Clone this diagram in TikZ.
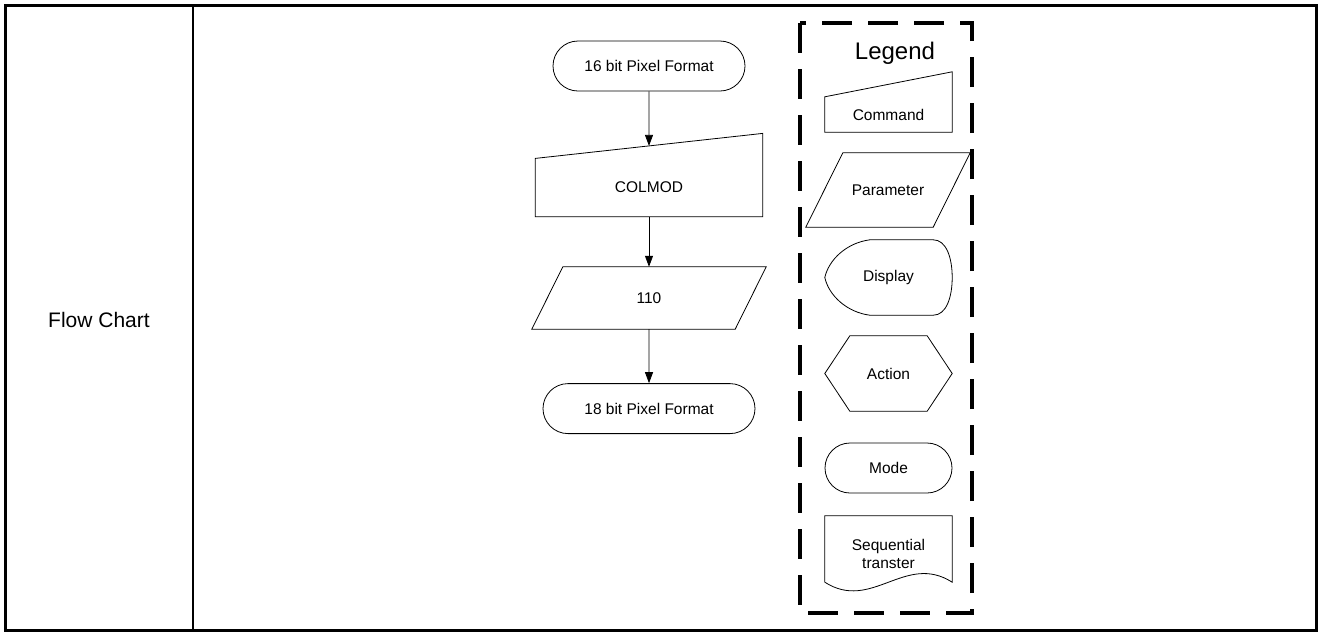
\documentclass[tikz,border=0pt]{standalone}
\usepackage{fontspec}
\setmainfont{Liberation Sans}
\usetikzlibrary{arrows.meta, positioning, shapes.misc, calc}
\tikzset{
  arrowK/.style={-{Triangle[length=11pt, width=8pt]}, black, line width=0.8pt},
  termbox/.style={rounded rectangle, draw, line width=0.8pt, minimum height=50pt,
                  inner sep=0pt, align=center},
  plainbox/.style={rectangle, inner sep=0pt, align=center},
  outline/.style={draw, line width=0.8pt},
  legdash/.style={line width=4pt, dash pattern=on 30pt off 16pt},
}
\begin{document}
\begin{tikzpicture}[x=1pt, y=-1pt, font=\fontsize{15.5}{18}\selectfont]
    \useasboundingbox (0,0) rectangle (1318,633);
    \draw[line width=3pt] (5,5) rectangle (1316,630);
    \draw[line width=2pt] (193,5) -- (193,630);
    \node[font=\fontsize{21}{24}\selectfont] (title) at (99,320) {Flow Chart};

    \node[termbox, minimum width=192pt] (fmt16) at (649,66) {16 bit Pixel Format};
    \node[plainbox, minimum width=227pt, minimum height=58pt, below=67pt of fmt16] (colmod) {COLMOD};
    \node[plainbox, minimum width=172pt, minimum height=62pt, below=50pt of colmod] (val) {110};
    \node[termbox, minimum width=212pt, below=54pt of val] (fmt18) {18 bit Pixel Format};
    \draw[outline] (colmod.south west) -- (colmod.north west) -- ([yshift=25pt]colmod.north east) -- (colmod.south east) -- cycle;
    \draw[outline] ([xshift=-31pt]val.south west) -- (val.north west) -- ([xshift=31pt]val.north east) -- (val.south east) -- cycle;
    \coordinate (colmodtop) at ([yshift=12.5pt]colmod.north);
    \draw[arrowK] (fmt16) -- (colmodtop); \draw[arrowK] (colmod) -- (val); \draw[arrowK] (val) -- (fmt18);

    \draw[legdash] (800,23) rectangle (972,613);
    \node[font=\fontsize{24}{28}\selectfont] (legtitle) at (895,53) {Legend};
    \node[plainbox, minimum width=127pt, minimum height=35pt] (legcmd) at (888.5,114.5) {Command};
    \node[plainbox, minimum width=90pt, minimum height=74pt] (legpar) at (888,190) {Parameter};
    \node[plainbox, minimum width=127pt, minimum height=75pt] (legdisp) at (888.5,277.5) {Display};
    \node[plainbox, minimum width=127pt, minimum height=75pt] (legact) at (888.5,373.5) {Action};
    \node[termbox, minimum width=127pt] (legmode) at (888.5,468) {Mode};
    \node[plainbox, minimum width=127pt, minimum height=76pt] (legseq) at (888.5,554) {Sequential\\transter};
    \draw[outline] (legcmd.south west) -- (legcmd.north west) -- ([yshift=25pt]legcmd.north east) -- (legcmd.south east) -- cycle;
    \draw[outline] ([xshift=-37pt]legpar.south west) -- (legpar.north west) -- ([xshift=37pt]legpar.north east) -- (legpar.south east) -- cycle;
    \draw[outline] ([xshift=45pt]legdisp.north west) -- ([xshift=-19pt]legdisp.north east)
      .. controls ([xshift=-6pt]legdisp.north east) and ([yshift=20pt]legdisp.east) .. (legdisp.east)
      .. controls ([yshift=-20pt]legdisp.east) and ([xshift=-6pt]legdisp.south east) .. ([xshift=-19pt]legdisp.south east)
      -- ([xshift=45pt]legdisp.south west)
      .. controls ([xshift=22pt,yshift=3pt]legdisp.south west) and ([xshift=4pt,yshift=-18pt]legdisp.west) .. (legdisp.west)
      .. controls ([xshift=4pt,yshift=18pt]legdisp.west) and ([xshift=22pt,yshift=-3pt]legdisp.north west) .. ([xshift=45pt]legdisp.north west) -- cycle;
    \draw[outline] (legact.west) -- ([xshift=25pt]legact.north west) -- ([xshift=-25pt]legact.north east) -- (legact.east)
      -- ([xshift=-25pt]legact.south east) -- ([xshift=25pt]legact.south west) -- cycle;
    \draw[outline] ([yshift=10pt]legseq.south west) -- (legseq.north west) -- (legseq.north east) -- ([yshift=10pt]legseq.south east)
      .. controls ([xshift=-47pt,yshift=40pt]legseq.south east) and ([xshift=47pt,yshift=-20pt]legseq.south west) .. ([yshift=10pt]legseq.south west);
\end{tikzpicture}
\end{document}
